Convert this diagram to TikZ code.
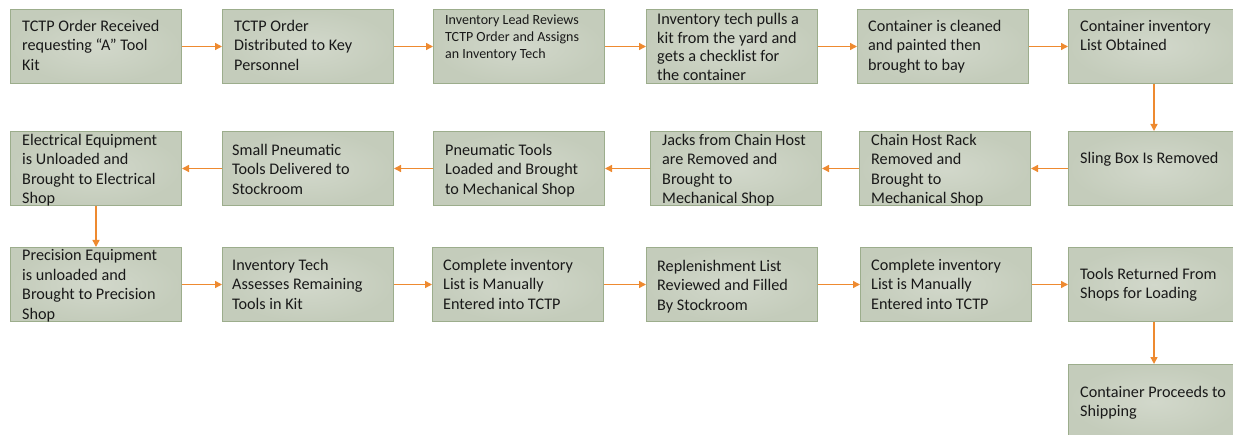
\documentclass[tikz,border=0pt]{standalone}
\usepackage{fontspec}
\setmainfont{Carlito}
\usetikzlibrary{arrows.meta}
\definecolor{boxfill}{HTML}{C4CCBB}
\definecolor{boxlight}{HTML}{D2D8CB}
\definecolor{boxedge}{HTML}{9CAD8C}
\definecolor{flow}{HTML}{EE8A30}
\tikzset{
  stage/.style={rectangle, draw=boxedge, line width=1pt, inner sep=0pt,
    minimum width=171pt, minimum height=74pt, anchor=north west,
    shading=radial, inner color=boxlight, outer color=boxfill},
  label/.style={anchor=north west, inner sep=0pt, align=left, text=black!90,
    font=\fontsize{16.2}{19.5}\selectfont},
  smalllabel/.style={label, font=\fontsize{14}{16.7}\selectfont},
  largelabel/.style={label, font=\fontsize{16.3}{18.5}\selectfont},
  flowarrow/.style={draw=flow, line width=1.4pt,
    -{Triangle[length=7pt,width=7pt]}, fill=flow},
}
\begin{document}
\begin{tikzpicture}[x=1pt, y=-1pt]
\useasboundingbox (0,0) rectangle (1233,435);

% first row: order intake and preparation
\node[stage] (b1) at (10,9) {};
\node[stage] (b2) at (222,9) {};
\node[stage] (b3) at (433,9) {};
\node[stage] (b4) at (646,9) {};
\node[stage] (b5) at (857,9) {};
\node[stage] (b6) at (1068,9) {};

% second row: unloading (runs right to left)
\node[stage] (c6) at (1068,131) {};
\node[stage] (c5) at (859,131) {};
\node[stage] (c4) at (650,131) {};
\node[stage] (c3) at (433,131) {};
\node[stage] (c2) at (222,131) {};
\node[stage] (c1) at (10,131) {};

% third row: assessment and return
\node[stage] (d1) at (10,247) {};
\node[stage] (d2) at (222,247) {};
\node[stage] (d3) at (432,247) {};
\node[stage] (d4) at (646,247) {};
\node[stage] (d5) at (860,247) {};
\node[stage] (d6) at (1068,247) {};
\node[stage] (e6) at (1068,364) {};

% texts
\node[label] (t1) at ([shift={(12,8.6)}]b1.north west) {\strut TCTP Order Received\\requesting “A” Tool\\Kit};
\node[label] (t2) at ([shift={(12,8.6)}]b2.north west) {\strut TCTP Order\\Distributed to Key\\Personnel};
\node[smalllabel] (t3) at ([shift={(12,4.1)}]b3.north west) {\strut Inventory Lead Reviews\\TCTP Order and Assigns\\an Inventory Tech};
\node[largelabel] (t4) at ([shift={(11,2.7)}]b4.north west) {\strut Inventory tech pulls a\\kit from the yard and\\gets a checklist for\\the container};
\node[label] (t5) at ([shift={(11,8.6)}]b5.north west) {\strut Container is cleaned\\and painted then\\brought to bay};
\node[label] (t6) at ([shift={(12,8.6)}]b6.north west) {\strut Container inventory\\List Obtained};

\node[label] (u6) at ([shift={(12,18.6)}]c6.north west) {\strut Sling Box Is Removed};
\node[label] (u5) at ([shift={(12,0.6)}]c5.north west) {\strut Chain Host Rack\\Removed and\\Brought to\\Mechanical Shop};
\node[label] (u4) at ([shift={(12,0.6)}]c4.north west) {\strut Jacks from Chain Host\\are Removed and\\Brought to\\Mechanical Shop};
\node[label] (u3) at ([shift={(12,10.6)}]c3.north west) {\strut Pneumatic Tools\\Loaded and Brought\\to Mechanical Shop};
\node[label] (u2) at ([shift={(10,10.6)}]c2.north west) {\strut Small Pneumatic\\Tools Delivered to\\Stockroom};
\node[label] (u1) at ([shift={(12,0.6)}]c1.north west) {\strut Electrical Equipment\\is Unloaded and\\Brought to Electrical\\Shop};

\node[label] (v1) at ([shift={(12,0)}]d1.north west) {\strut Precision Equipment\\is unloaded and\\Brought to Precision\\Shop};
\node[label] (v2) at ([shift={(10,9.6)}]d2.north west) {\strut Inventory Tech\\Assesses Remaining\\Tools in Kit};
\node[label] (v3) at ([shift={(11,9.6)}]d3.north west) {\strut Complete inventory\\List is Manually\\Entered into TCTP};
\node[label] (v4) at ([shift={(11,10.6)}]d4.north west) {\strut Replenishment List\\Reviewed and Filled\\By Stockroom};
\node[label] (v5) at ([shift={(11,9.6)}]d5.north west) {\strut Complete inventory\\List is Manually\\Entered into TCTP};
\node[label] (v6) at ([shift={(12,18.6)}]d6.north west) {\strut Tools Returned From\\Shops for Loading};
\node[label] (w6) at ([shift={(12,19.6)}]e6.north west) {\strut Container Proceeds to\\Shipping};

% connectors
\draw[flowarrow] (b1.east) -- (b2.west);
\draw[flowarrow] (b2.east) -- (b3.west);
\draw[flowarrow] (b3.east) -- (b4.west);
\draw[flowarrow] (b4.east) -- (b5.west);
\draw[flowarrow] (b5.east) -- (b6.west);
\draw[flowarrow] (b6.south) -- (c6.north);
\draw[flowarrow] (c6.west) -- (c5.east);
\draw[flowarrow] (c5.west) -- (c4.east);
\draw[flowarrow] (c4.west) -- (c3.east);
\draw[flowarrow] (c3.west) -- (c2.east);
\draw[flowarrow] (c2.west) -- (c1.east);
\draw[flowarrow] (c1.south) -- (d1.north);
\draw[flowarrow] (d1.east) -- (d2.west);
\draw[flowarrow] (d2.east) -- (d3.west);
\draw[flowarrow] (d3.east) -- (d4.west);
\draw[flowarrow] (d4.east) -- (d5.west);
\draw[flowarrow] (d5.east) -- (d6.west);
\draw[flowarrow] (d6.south) -- (e6.north);
\end{tikzpicture}
\end{document}
